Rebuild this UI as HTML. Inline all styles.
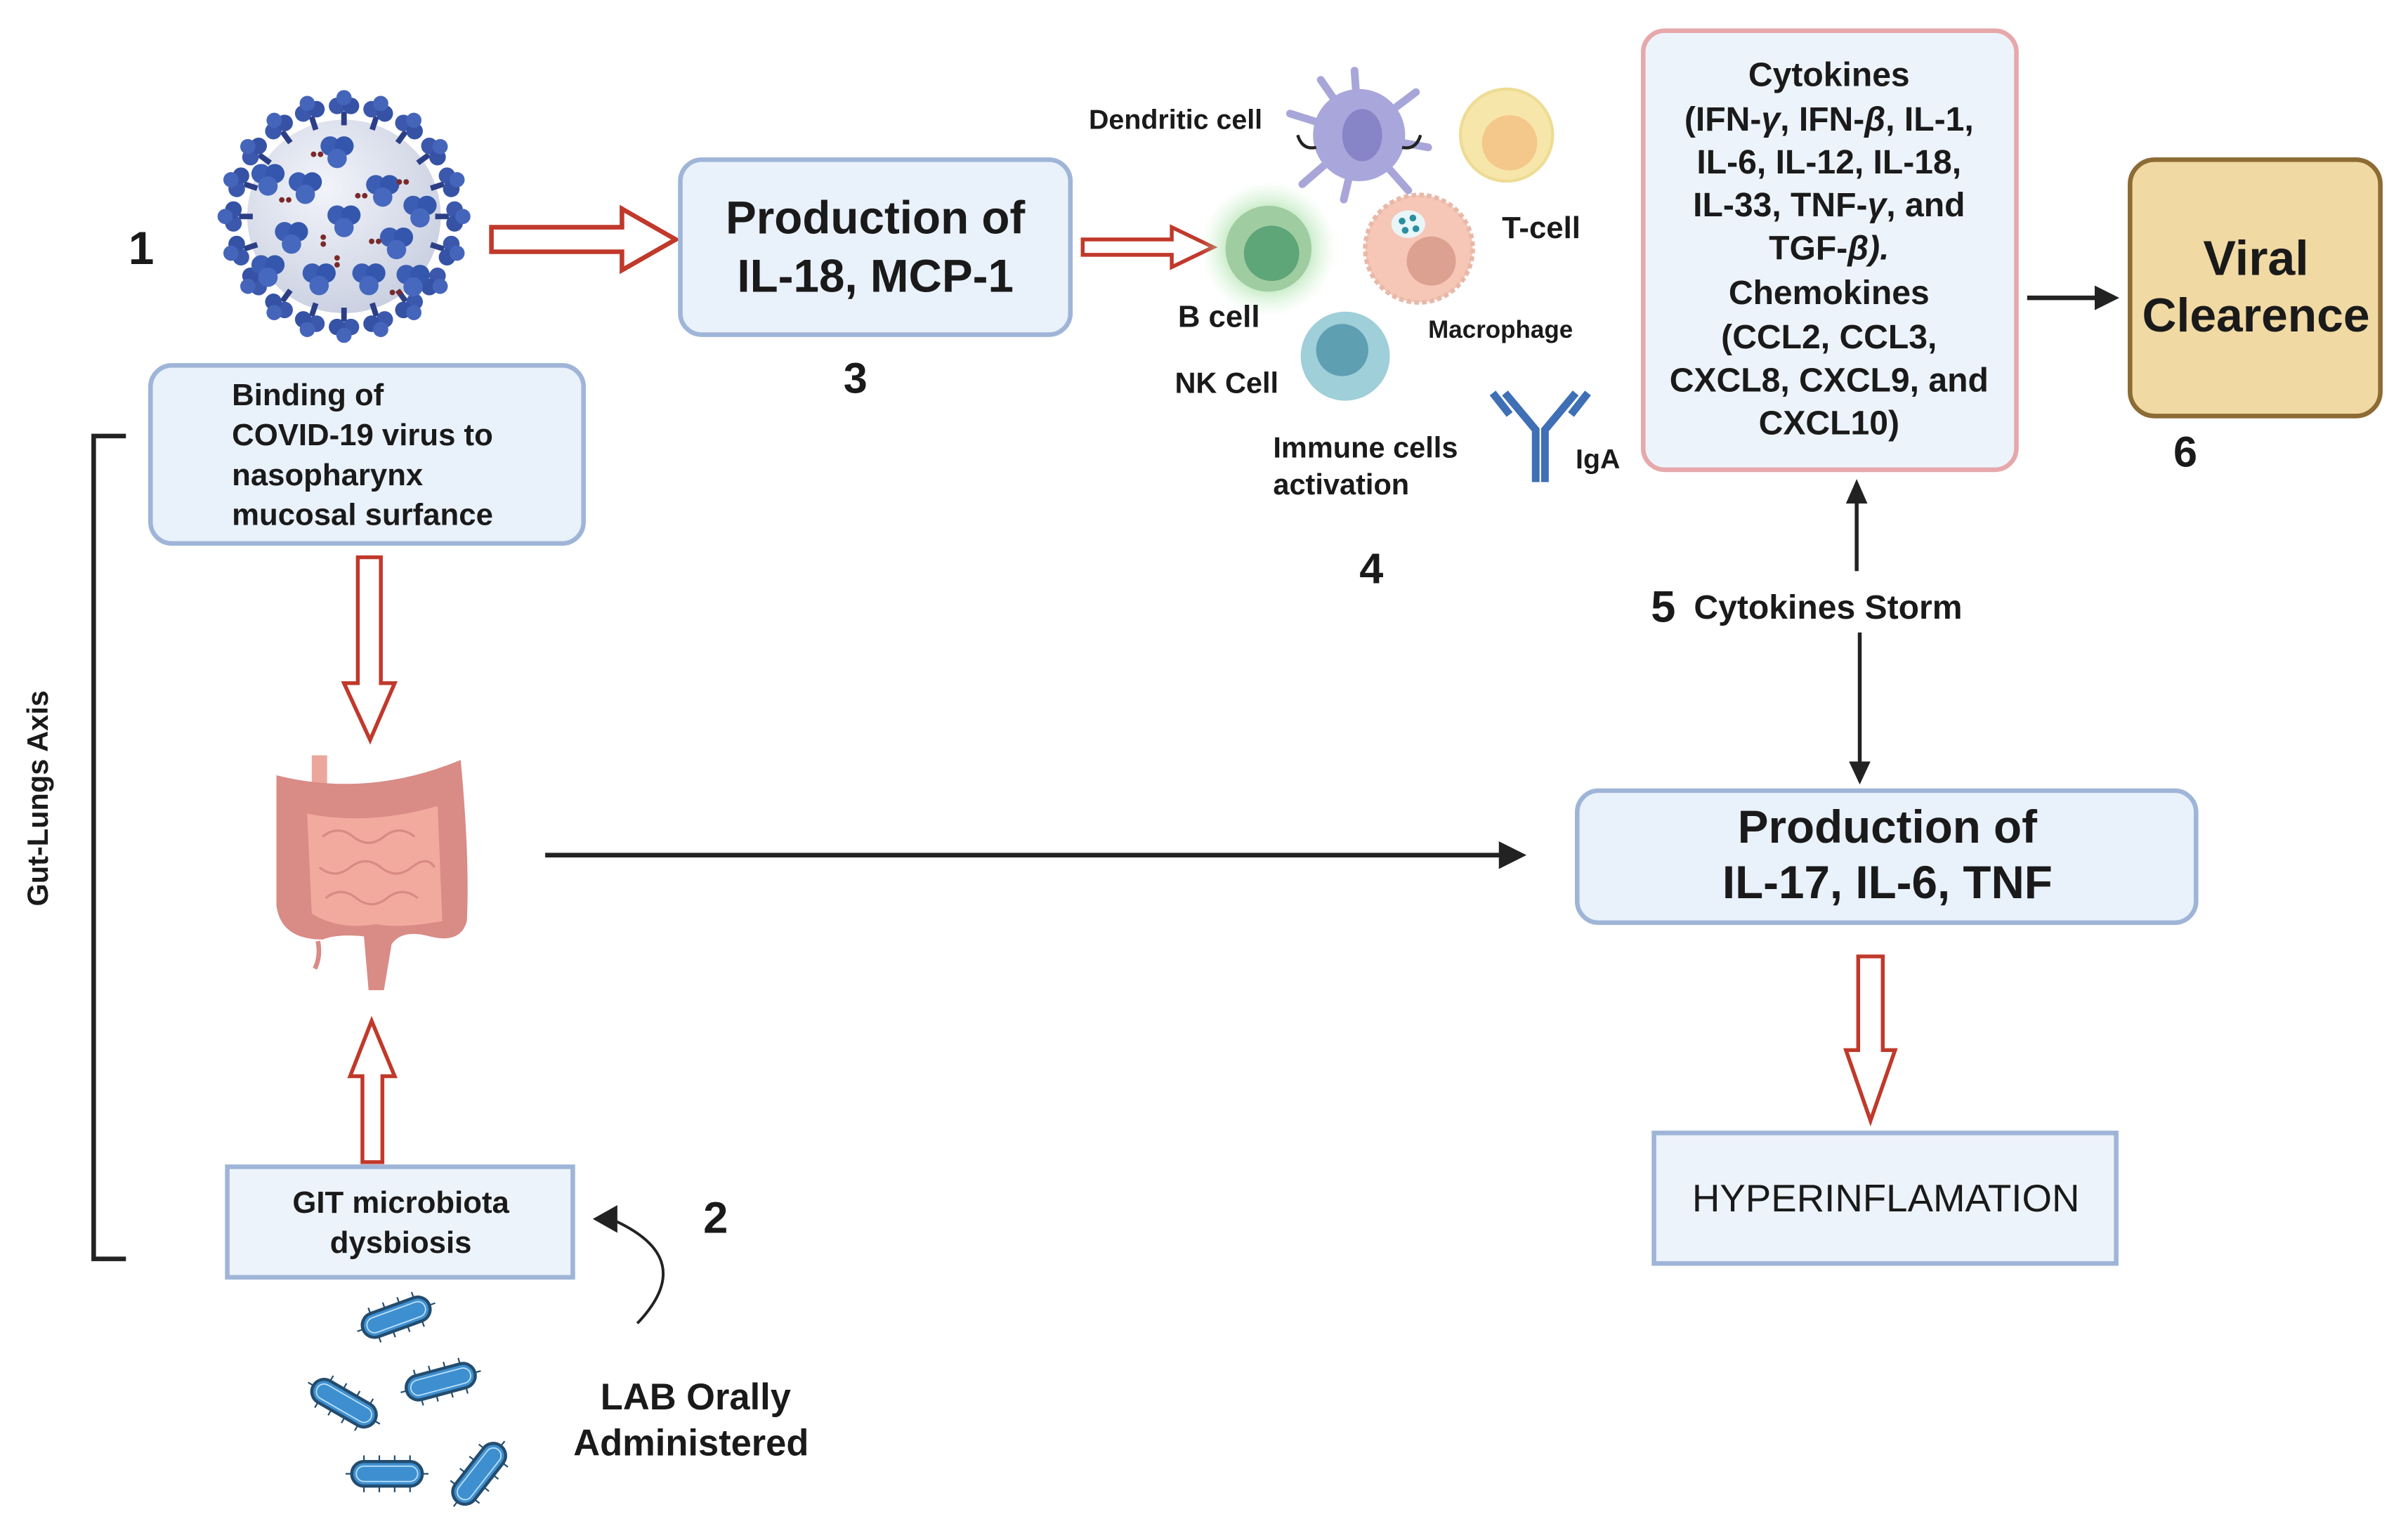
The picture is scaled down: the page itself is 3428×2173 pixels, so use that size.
<!DOCTYPE html>
<html><head><meta charset="utf-8"><style>
html,body{margin:0;padding:0;background:#fff}
svg{display:block}
text{font-family:"Liberation Sans",sans-serif;fill:#1a1a1a}
.b{font-weight:bold}
</style></head><body>
<svg width="3428" height="2173" viewBox="0 0 1568 994" preserveAspectRatio="none" xmlns="http://www.w3.org/2000/svg">
<defs>
<radialGradient id="vg" cx="0.4" cy="0.35" r="0.7"><stop offset="0" stop-color="#f2f4fa"/><stop offset="1" stop-color="#c9cfe0"/></radialGradient>
<radialGradient id="glow" cx="0.5" cy="0.5" r="0.5"><stop offset="0.55" stop-color="#9fdc9f" stop-opacity="0.7"/><stop offset="1" stop-color="#c8f0c8" stop-opacity="0"/></radialGradient>
<g id="sp"><rect x="-2" y="-76" width="4" height="10" fill="#2c3f86"/><circle cx="-5" cy="-80" r="6" fill="#3b58ad"/><circle cx="5" cy="-80" r="6" fill="#3552a5"/><circle cx="0" cy="-86" r="5.5" fill="#4565bb"/></g>
<g id="blob"><circle cx="-5" cy="-3" r="7" fill="#3b5db3"/><circle cx="5" cy="-3" r="7" fill="#3456ac"/><circle cx="0" cy="6" r="7" fill="#4668be"/></g>
<g id="bac"><rect x="-23" y="-8" width="46" height="16" rx="8" fill="#3d8fd0" stroke="#234c6e" stroke-width="2"/><rect x="-20" y="-5" width="40" height="10" rx="5" fill="none" stroke="#bfe2f7" stroke-width="0.8"/>
<g stroke="#234c6e" stroke-width="1"><line x1="-15" y1="-8" x2="-15" y2="-12"/><line x1="-5" y1="-8" x2="-5" y2="-12"/><line x1="5" y1="-8" x2="5" y2="-12"/><line x1="15" y1="-8" x2="15" y2="-12"/><line x1="-15" y1="8" x2="-15" y2="12"/><line x1="-5" y1="8" x2="-5" y2="12"/><line x1="5" y1="8" x2="5" y2="12"/><line x1="15" y1="8" x2="15" y2="12"/><line x1="-23" y1="0" x2="-27" y2="0"/><line x1="23" y1="0" x2="27" y2="0"/></g></g>
</defs>

<!-- Virus -->
<g transform="translate(224,141) scale(0.9)">
<circle r="70" fill="url(#vg)"/>
<g>
<use href="#sp" transform="rotate(0)"/><use href="#sp" transform="rotate(18)"/><use href="#sp" transform="rotate(36)"/><use href="#sp" transform="rotate(54)"/><use href="#sp" transform="rotate(72)"/><use href="#sp" transform="rotate(90)"/><use href="#sp" transform="rotate(108)"/><use href="#sp" transform="rotate(126)"/><use href="#sp" transform="rotate(144)"/><use href="#sp" transform="rotate(162)"/><use href="#sp" transform="rotate(180)"/><use href="#sp" transform="rotate(198)"/><use href="#sp" transform="rotate(216)"/><use href="#sp" transform="rotate(234)"/><use href="#sp" transform="rotate(252)"/><use href="#sp" transform="rotate(270)"/><use href="#sp" transform="rotate(288)"/><use href="#sp" transform="rotate(306)"/><use href="#sp" transform="rotate(324)"/><use href="#sp" transform="rotate(342)"/>
</g>
<use href="#blob" transform="translate(0,2)"/><use href="#blob" transform="translate(-28,-22)"/><use href="#blob" transform="translate(28,-20)"/><use href="#blob" transform="translate(-38,14)"/><use href="#blob" transform="translate(38,18)"/><use href="#blob" transform="translate(-18,44)"/><use href="#blob" transform="translate(18,44)"/><use href="#blob" transform="translate(-5,-48)"/><use href="#blob" transform="translate(-55,-28)"/><use href="#blob" transform="translate(55,-5)"/><use href="#blob" transform="translate(-55,38)"/><use href="#blob" transform="translate(50,45)"/>
<g fill="#7a2a2a"><circle cx="-22" cy="-45" r="2"/><circle cx="-17" cy="-45" r="2"/><circle cx="10" cy="-15" r="2"/><circle cx="15" cy="-15" r="2"/><circle cx="-45" cy="-12" r="2"/><circle cx="-40" cy="-12" r="2"/><circle cx="-15" cy="15" r="2"/><circle cx="-15" cy="20" r="2"/><circle cx="20" cy="18" r="2"/><circle cx="25" cy="18" r="2"/><circle cx="40" cy="-25" r="2"/><circle cx="45" cy="-25" r="2"/><circle cx="-5" cy="30" r="2"/><circle cx="-5" cy="35" r="2"/><circle cx="35" cy="55" r="2"/><circle cx="40" cy="55" r="2"/></g>
</g>

<text x="92" y="172" class="b" font-size="30" text-anchor="middle">1</text>

<polygon points="320,148 405,148 405,136 440,156 405,176 405,164 320,164" fill="#fff" stroke="#c0392b" stroke-width="3"/>

<rect x="443" y="104" width="254" height="114" rx="14" fill="#e9f1fb" stroke="#9fb5d8" stroke-width="3"/>
<text x="570" y="152" class="b" font-size="30" text-anchor="middle">Production of</text>
<text x="570" y="190" class="b" font-size="30" text-anchor="middle">IL-18, MCP-1</text>
<text x="557" y="256" class="b" font-size="28" text-anchor="middle">3</text>

<polygon points="705,156 763,156 763,148 790,161 763,174 763,166 705,166" fill="#fff" stroke="#c0392b" stroke-width="2.5"/>

<text x="709" y="84" class="b" font-size="18">Dendritic cell</text>
<g stroke="#a8a6d8" stroke-width="5" stroke-linecap="round">
<line x1="885" y1="88" x2="882" y2="46"/><line x1="885" y1="88" x2="922" y2="60"/><line x1="885" y1="88" x2="840" y2="74"/><line x1="885" y1="88" x2="848" y2="120"/><line x1="885" y1="88" x2="917" y2="124"/><line x1="885" y1="88" x2="875" y2="130"/><line x1="885" y1="88" x2="930" y2="96"/><line x1="885" y1="88" x2="860" y2="52"/></g>
<circle cx="885" cy="88" r="30" fill="#a9a6dc"/>
<ellipse cx="887" cy="88" rx="13" ry="17" fill="#8784c8"/>
<path d="M845,88 q3,10 12,8 M925,88 q-3,10 -12,8" stroke="#222" stroke-width="2" fill="none"/>

<circle cx="981" cy="88" r="30" fill="#f7e6a9" stroke="#eedc95" stroke-width="2"/>
<circle cx="983" cy="93" r="18" fill="#f4c88a"/>
<text x="978" y="155" class="b" font-size="20">T-cell</text>

<circle cx="826" cy="162" r="44" fill="url(#glow)"/>
<circle cx="826" cy="162" r="28" fill="#9fcca0"/>
<circle cx="828" cy="165" r="18" fill="#5ea578"/>
<text x="767" y="213" class="b" font-size="20">B cell</text>

<circle cx="924" cy="162" r="35" fill="#f6c7b6" stroke="#e8b8a8" stroke-width="3" stroke-dasharray="3 2"/>
<circle cx="932" cy="170" r="16" fill="#dda191"/>
<ellipse cx="917" cy="146" rx="11" ry="9" fill="#e8f6f8"/>
<g fill="#2a8ea0"><circle cx="913" cy="144" r="2.2"/><circle cx="920" cy="142" r="2.2"/><circle cx="915" cy="150" r="2.2"/><circle cx="922" cy="149" r="2.2"/></g>
<text x="930" y="220" class="b" font-size="16">Macrophage</text>

<circle cx="876" cy="232" r="29" fill="#9fcfd8"/>
<circle cx="874" cy="228" r="17" fill="#5f9fb2"/>
<text x="765" y="256" class="b" font-size="19">NK Cell</text>

<g stroke="#3f6fb5" stroke-width="5" fill="none" stroke-linecap="butt">
<path d="M1000,314 V280 L980,256"/><path d="M1006,314 V280 L1026,256"/><path d="M983,270 L972,256"/><path d="M1023,270 L1034,256"/></g>
<text x="1026" y="305" class="b" font-size="18">IgA</text>
<text x="829" y="298" class="b" font-size="19">Immune cells</text>
<text x="829" y="322" class="b" font-size="19">activation</text>
<text x="893" y="380" class="b" font-size="28" text-anchor="middle">4</text>

<rect x="1070" y="20" width="243" height="286" rx="14" fill="#edf3fb" stroke="#e6a8ab" stroke-width="3"/>
<g font-size="22" text-anchor="middle" font-weight="bold">
<text x="1191" y="56">Cytokines</text>
<text x="1191" y="85">(IFN-<tspan font-style="italic">γ</tspan>, IFN-<tspan font-style="italic">β</tspan>, IL-1,</text>
<text x="1191" y="113">IL-6, IL-12, IL-18,</text>
<text x="1191" y="141">IL-33, TNF-<tspan font-style="italic">γ</tspan>, and</text>
<text x="1191" y="169">TGF-<tspan font-style="italic">β).</tspan></text>
<text x="1191" y="198">Chemokines</text>
<text x="1191" y="227">(CCL2, CCL3,</text>
<text x="1191" y="255">CXCL8, CXCL9, and</text>
<text x="1191" y="283">CXCL10)</text>
</g>

<line x1="1320" y1="194" x2="1366" y2="194" stroke="#222" stroke-width="3"/>
<polygon points="1364,186 1380,194 1364,202" fill="#222"/>
<rect x="1387" y="104" width="163" height="167" rx="16" fill="#f0d9a3" stroke="#8d6b34" stroke-width="3"/>
<text x="1469" y="179" class="b" font-size="32" text-anchor="middle">Viral</text>
<text x="1469" y="216" class="b" font-size="31" text-anchor="middle">Clearence</text>
<text x="1423" y="304" class="b" font-size="28" text-anchor="middle">6</text>

<line x1="1209" y1="372" x2="1209" y2="325" stroke="#222" stroke-width="2.5"/>
<polygon points="1202,328 1209,312 1216,328" fill="#222"/>
<text x="1075" y="405" class="b" font-size="29">5</text>
<text x="1103" y="403" class="b" font-size="22">Cytokines Storm</text>
<line x1="1211" y1="412" x2="1211" y2="498" stroke="#222" stroke-width="2.5"/>
<polygon points="1204,496 1211,511 1218,496" fill="#222"/>

<rect x="1027" y="515" width="403" height="86" rx="14" fill="#e9f1fb" stroke="#9fb5d8" stroke-width="3"/>
<text x="1229" y="549" class="b" font-size="30" text-anchor="middle">Production of</text>
<text x="1229" y="585" class="b" font-size="30" text-anchor="middle">IL-17, IL-6, TNF</text>

<polygon points="1210,623 1226,623 1226,684 1234,684 1218,730 1202,684 1210,684" fill="#fff" stroke="#c0392b" stroke-width="2.5"/>
<rect x="1077" y="738" width="301" height="85" fill="#edf3fb" stroke="#9fb5d8" stroke-width="3"/>
<text x="1228" y="789" font-size="25" text-anchor="middle">HYPERINFLAMATION</text>

<rect x="98" y="238" width="282" height="116" rx="14" fill="#e9f1fb" stroke="#9fb5d8" stroke-width="3"/>
<g font-size="20" font-weight="bold">
<text x="151" y="264">Binding of</text>
<text x="151" y="290">COVID-19 virus to</text>
<text x="151" y="316">nasopharynx</text>
<text x="151" y="342">mucosal surfance</text>
</g>

<path d="M82,284 H61 V820 H82" fill="none" stroke="#222" stroke-width="3"/>
<text transform="translate(31,520) rotate(-90)" class="b" font-size="19" text-anchor="middle">Gut-Lungs Axis</text>

<polygon points="233,363 248,363 248,445 257,445 241,482 224,445 233,445" fill="#fff" stroke="#c0392b" stroke-width="2.5"/>

<g>
<rect x="203" y="492" width="10" height="20" fill="#eca79c"/>
<path d="M180,505 Q240,520 300,495 Q306,560 304,600 Q300,615 280,610 Q262,605 255,615 L250,645 L240,645 L237,610 Q220,608 210,612 Q183,612 180,590 Z" fill="#d98b86"/>
<path d="M200,530 Q240,538 285,525 L288,600 Q260,605 245,602 Q220,606 203,595 Z" fill="#f2aa9e"/>
<g stroke="#d88b82" stroke-width="1.5" fill="none"><path d="M210,545 q10,-8 20,0 t20,0 t20,0"/><path d="M208,565 q10,8 20,0 t20,0 t20,0 t15,0"/><path d="M212,585 q10,-8 20,0 t20,0 t20,0"/></g>
<path d="M207,613 q2,10 -2,18" stroke="#d98b86" stroke-width="3" fill="none"/>
</g>

<line x1="355" y1="557" x2="978" y2="557" stroke="#222" stroke-width="3"/>
<polygon points="976,548 994,557 976,566" fill="#222"/>

<polygon points="236,757 249,757 249,701 257,701 242,665 228,701 236,701" fill="#fff" stroke="#c0392b" stroke-width="2.5"/>

<rect x="148" y="760" width="225" height="72" fill="#edf3fb" stroke="#9fb5d8" stroke-width="3"/>
<text x="261" y="790" class="b" font-size="20" text-anchor="middle">GIT microbiota</text>
<text x="261" y="816" class="b" font-size="20" text-anchor="middle">dysbiosis</text>

<path d="M415,862 Q455,820 400,795" fill="none" stroke="#222" stroke-width="1.8"/>
<polygon points="386,794 402,785 402,803" fill="#222"/>
<text x="466" y="803" class="b" font-size="29" text-anchor="middle">2</text>

<use href="#bac" transform="translate(258,858) rotate(-20)"/>
<use href="#bac" transform="translate(287,900) rotate(-15)"/>
<use href="#bac" transform="translate(224,914) rotate(30)"/>
<use href="#bac" transform="translate(252,960)"/>
<use href="#bac" transform="translate(312,960) rotate(-52)"/>

<text x="453" y="918" class="b" font-size="24" text-anchor="middle">LAB Orally</text>
<text x="450" y="948" class="b" font-size="24" text-anchor="middle">Administered</text>
</svg>
</body></html>
